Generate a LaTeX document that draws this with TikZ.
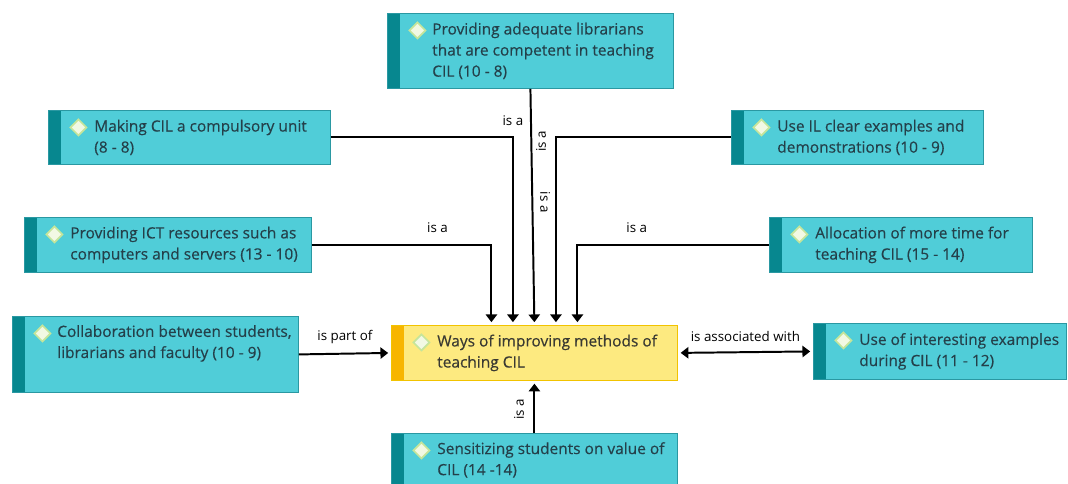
\documentclass[tikz,border=0pt]{standalone}
\usepackage{fontspec}
\setmainfont{Open Sans}
\newfontfamily\boxfont{Open Sans}[FakeBold=0.35]
\usepackage{tikz}
\usetikzlibrary{positioning}
\usetikzlibrary{arrows.meta}
\usetikzlibrary{calc}

\definecolor{conceptfill}{HTML}{50CDD8}
\definecolor{conceptedge}{HTML}{2A98A2}
\definecolor{conceptbar}{HTML}{07878F}
\definecolor{rootfill}{HTML}{FDEA80}
\definecolor{rootedge}{HTML}{F2C300}
\definecolor{rootbar}{HTML}{F7B500}
\definecolor{textdark}{HTML}{24404A}
\definecolor{rootdark}{HTML}{3A3A32}
\definecolor{markfill}{HTML}{F2F9E4}
\definecolor{markedge}{HTML}{C5E59B}

\newcommand{\pu}{0.025cm}

\begin{document}
\begin{tikzpicture}[x=\pu, y=-\pu,
	>={Triangle[length=5.5pt,width=8pt]},
	card/.style n args={3}{rectangle, fill=#1, draw=#2, line width=0.6pt,
		anchor=north west, inner sep=0pt,
		path picture={
			\fill[#3] (path picture bounding box.north west) rectangle
				([xshift=13*\pu]path picture bounding box.south west);
			\filldraw[gem] ([xshift=30*\pu,yshift=-17*\pu]path picture bounding box.north west)
				+(0pt,8*\pu) -- +(8*\pu,0pt) -- +(0pt,-8*\pu) -- +(-8*\pu,0pt) -- cycle;}},
	box/.style={card={conceptfill}{conceptedge}{conceptbar}},
	rootbox/.style={card={rootfill}{rootedge}{rootbar}},
	gem/.style={fill=markfill, draw=markedge, line width=1.2pt},
	txt/.style={align=left, inner sep=0pt, font=\boxfont\fontsize{11}{15}\selectfont, text=textdark},
	lbl/.style={inner sep=0pt, font=\fontsize{9.5}{11}\selectfont},
	link/.style={line width=1.4pt, ->, shorten >=2pt}]
	\fill[white] (0,0) rectangle (1068,484);
	\useasboundingbox (0,0) rectangle (1068,484);

	% concepts
	\node[box, minimum width=286*\pu, minimum height=75*\pu] (librarians) at (387,13) {};
	\node[txt, right=45*\pu of librarians.west] (librarians text) {Providing adequate librarians\\that are competent in teaching\\CIL (10 - 8)};
	\node[box, minimum width=282*\pu, minimum height=54*\pu] (making) at (48,110) {};
	\node[txt, right=46*\pu of making.west] (making text) {Making CIL a compulsory unit\\(8 - 8)};
	\node[box, minimum width=252*\pu, minimum height=54*\pu] (demo) at (731,110) {};
	\node[txt, right=46*\pu of demo.west] (demo text) {Use IL clear examples and\\demonstrations (10 - 9)};
	\node[box, minimum width=287*\pu, minimum height=55*\pu] (ict) at (24,217) {};
	\node[txt, right=46*\pu of ict.west] (ict text) {Providing ICT resources such as\\computers and servers (13 - 10)};
	\node[box, minimum width=263*\pu, minimum height=55*\pu] (time) at (769,217) {};
	\node[txt, right=46*\pu of time.west] (time text) {Allocation of more time for\\teaching CIL (15 - 14)};
	\node[box, minimum width=286*\pu, minimum height=76*\pu] (collab) at (12,316) {};
	\node[txt, right=45*\pu of collab.west, yshift=11*\pu] (collab text) {Collaboration between students,\\librarians and faculty (10 - 9)};
	\node[rootbox, minimum width=286*\pu, minimum height=55*\pu] (root) at (391,325) {};
	\node[txt, text=rootdark, right=46*\pu of root.west] (root text) {Ways of improving methods of\\teaching CIL};
	\node[box, minimum width=253*\pu, minimum height=56*\pu] (examples) at (813,323) {};
	\node[txt, right=46*\pu of examples.west] (examples text) {Use of interesting examples\\during CIL (11 - 12)};
	\node[box, minimum width=286*\pu, minimum height=53*\pu] (value) at (391,433) {};
	\node[txt, right=46*\pu of value.west] (value text) {Sensitizing students on value of\\CIL (14 -14)};

	% links
	\draw[link] (librarians.south) -- node[lbl, pos=0.48, rotate=-90, anchor=south, outer sep=8*\pu] {is a} (root.north);
	\draw[link] (making.east) -| node[lbl, pos=0.5, above=11*\pu] {is a} ($(root.north)+(-21.5,0)$);
	\draw[link] (demo.west) -| node[lbl, pos=0.51, rotate=90, anchor=south, outer sep=10*\pu] {is a} ($(root.north)+(21.5,0)$);
	\draw[link] (ict.east) -| node[lbl, pos=0.35, above=11*\pu] {is a} ($(root.north)+(-43,0)$);
	\draw[link] (time.west) -| node[lbl, pos=0.345, above=11*\pu] {is a} ($(root.north)+(43,0)$);
	\draw[link] (collab.east) -- node[lbl, above=9*\pu] {is part of} (root.west);
	\draw[link, <->, shorten <=2pt] (root.east) -- node[lbl, above=10*\pu] {is associated with} (examples.west);
	\draw[link] (value.north) -- node[lbl, pos=0.45, rotate=90, anchor=south, outer sep=10.5*\pu] {is a} (root.south);
\end{tikzpicture}
\end{document}
